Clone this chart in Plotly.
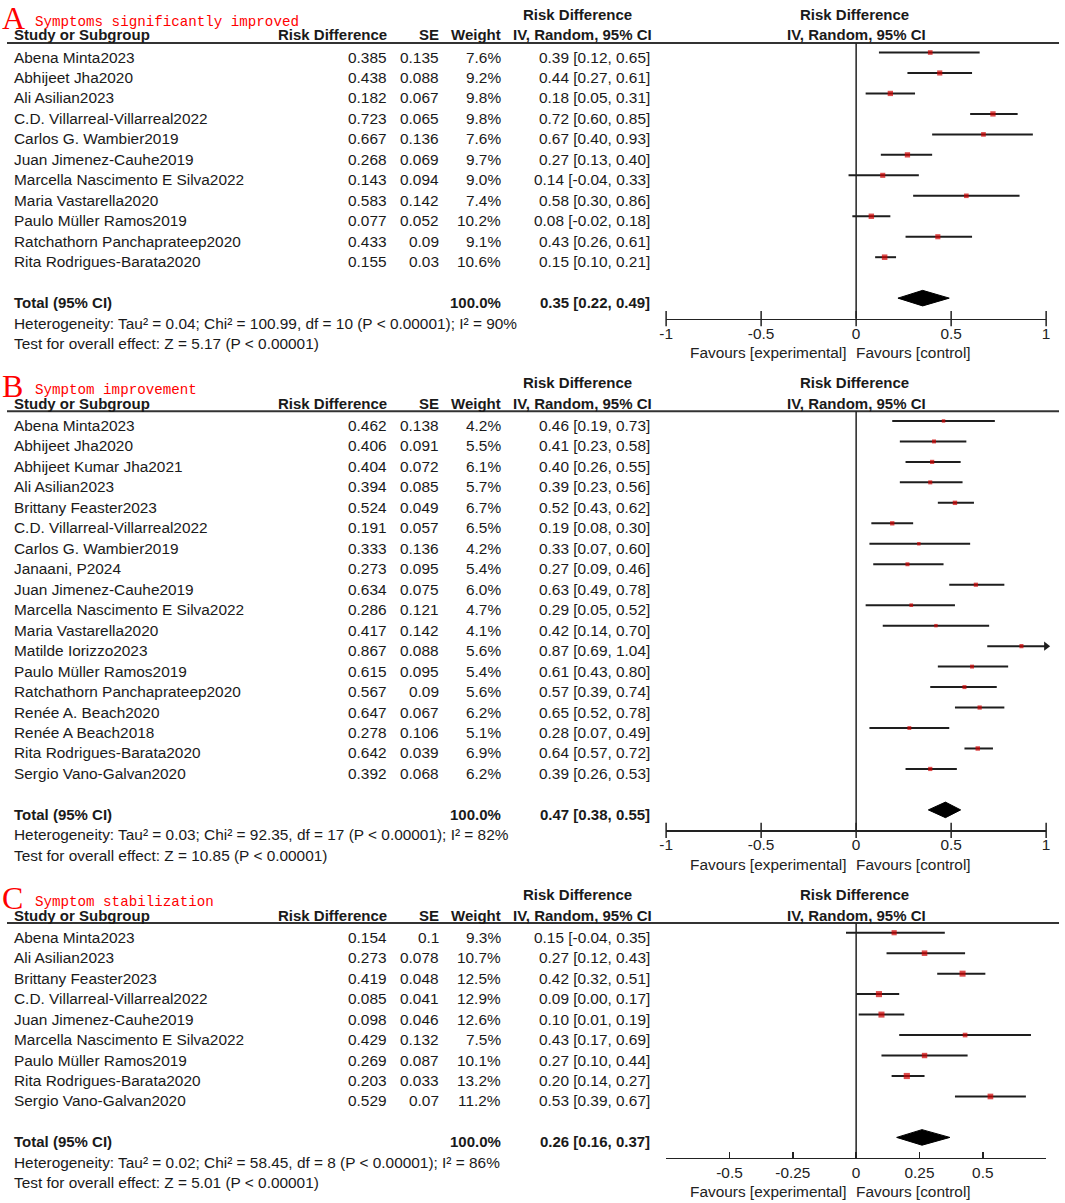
import math
import plotly.graph_objects as go

W, H = 1065, 1203
ROW0_PX = 52.5      # pixel of the first study row (graphics centre)
ROW_PX = 20.47      # row pitch in pixels
TXT_SHIFT = -4.5    # text sits slightly below the CI line
SANS = "Liberation Sans, Arial, sans-serif"
TXT = "#1a1a1a"
FS = 15.4           # regular text size
FB = 15.0           # bold text size
LEFT_FIX = -6.5     # empirical offset of left-anchored annotation boxes
RIGHT_FIX = -1.5

# ---------------- Panel A ----------------
a_names = ["Abena Minta2023", "Abhijeet Jha2020", "Ali Asilian2023", "C.D. Villarreal-Villarreal2022",
           "Carlos G. Wambier2019", "Juan Jimenez-Cauhe2019", "Marcella Nascimento E Silva2022",
           "Maria Vastarella2020", "Paulo Müller Ramos2019", "Ratchathorn Panchaprateep2020",
           "Rita Rodrigues-Barata2020"]
a_rd = [0.385, 0.438, 0.182, 0.723, 0.667, 0.268, 0.143, 0.583, 0.077, 0.433, 0.155]
a_se = [0.135, 0.088, 0.067, 0.065, 0.136, 0.069, 0.094, 0.142, 0.052, 0.09, 0.03]
a_weight = [7.6, 9.2, 9.8, 9.8, 7.6, 9.7, 9.0, 7.4, 10.2, 9.1, 10.6]
a_est = [0.39, 0.44, 0.18, 0.72, 0.67, 0.27, 0.14, 0.58, 0.08, 0.43, 0.15]
a_lo = [0.12, 0.27, 0.05, 0.60, 0.40, 0.13, -0.04, 0.30, -0.02, 0.26, 0.10]
a_hi = [0.65, 0.61, 0.31, 0.85, 0.93, 0.40, 0.33, 0.86, 0.18, 0.61, 0.21]
a_total = [0.35, 0.22, 0.49]
a_het = "Heterogeneity: Tau² = 0.04; Chi² = 100.99, df = 10 (P < 0.00001); I² = 90%"
a_test = "Test for overall effect: Z = 5.17 (P < 0.00001)"
a_range = [-1, 1]
a_ticks = [-1, -0.5, 0, 0.5, 1]
a_ticktext = ["-1", "-0.5", "0", "0.5", "1"]

# ---------------- Panel B ----------------
b_names = ["Abena Minta2023", "Abhijeet Jha2020", "Abhijeet Kumar Jha2021", "Ali Asilian2023",
           "Brittany Feaster2023", "C.D. Villarreal-Villarreal2022", "Carlos G. Wambier2019",
           "Janaani, P2024", "Juan Jimenez-Cauhe2019", "Marcella Nascimento E Silva2022",
           "Maria Vastarella2020", "Matilde Iorizzo2023", "Paulo Müller Ramos2019",
           "Ratchathorn Panchaprateep2020", "Renée A. Beach2020", "Renée A Beach2018",
           "Rita Rodrigues-Barata2020", "Sergio Vano-Galvan2020"]
b_rd = [0.462, 0.406, 0.404, 0.394, 0.524, 0.191, 0.333, 0.273, 0.634, 0.286, 0.417, 0.867,
        0.615, 0.567, 0.647, 0.278, 0.642, 0.392]
b_se = [0.138, 0.091, 0.072, 0.085, 0.049, 0.057, 0.136, 0.095, 0.075, 0.121, 0.142, 0.088,
        0.095, 0.09, 0.067, 0.106, 0.039, 0.068]
b_weight = [4.2, 5.5, 6.1, 5.7, 6.7, 6.5, 4.2, 5.4, 6.0, 4.7, 4.1, 5.6, 5.4, 5.6, 6.2, 5.1, 6.9, 6.2]
b_est = [0.46, 0.41, 0.40, 0.39, 0.52, 0.19, 0.33, 0.27, 0.63, 0.29, 0.42, 0.87, 0.61, 0.57,
         0.65, 0.28, 0.64, 0.39]
b_lo = [0.19, 0.23, 0.26, 0.23, 0.43, 0.08, 0.07, 0.09, 0.49, 0.05, 0.14, 0.69, 0.43, 0.39,
        0.52, 0.07, 0.57, 0.26]
b_hi = [0.73, 0.58, 0.55, 0.56, 0.62, 0.30, 0.60, 0.46, 0.78, 0.52, 0.70, 1.04, 0.80, 0.74,
        0.78, 0.49, 0.72, 0.53]
b_total = [0.47, 0.38, 0.55]
b_het = "Heterogeneity: Tau² = 0.03; Chi² = 92.35, df = 17 (P < 0.00001); I² = 82%"
b_test = "Test for overall effect: Z = 10.85 (P < 0.00001)"
b_range = [-1, 1]
b_ticks = [-1, -0.5, 0, 0.5, 1]
b_ticktext = ["-1", "-0.5", "0", "0.5", "1"]

# ---------------- Panel C ----------------
c_names = ["Abena Minta2023", "Ali Asilian2023", "Brittany Feaster2023",
           "C.D. Villarreal-Villarreal2022", "Juan Jimenez-Cauhe2019",
           "Marcella Nascimento E Silva2022", "Paulo Müller Ramos2019",
           "Rita Rodrigues-Barata2020", "Sergio Vano-Galvan2020"]
c_rd = [0.154, 0.273, 0.419, 0.085, 0.098, 0.429, 0.269, 0.203, 0.529]
c_se = [0.1, 0.078, 0.048, 0.041, 0.046, 0.132, 0.087, 0.033, 0.07]
c_weight = [9.3, 10.7, 12.5, 12.9, 12.6, 7.5, 10.1, 13.2, 11.2]
c_est = [0.15, 0.27, 0.42, 0.09, 0.10, 0.43, 0.27, 0.20, 0.53]
c_lo = [-0.04, 0.12, 0.32, 0.00, 0.01, 0.17, 0.10, 0.14, 0.39]
c_hi = [0.35, 0.43, 0.51, 0.17, 0.19, 0.69, 0.44, 0.27, 0.67]
c_total = [0.26, 0.16, 0.37]
c_het = "Heterogeneity: Tau² = 0.02; Chi² = 58.45, df = 8 (P < 0.00001); I² = 86%"
c_test = "Test for overall effect: Z = 5.01 (P < 0.00001)"
c_range = [-0.75, 0.75]
c_ticks = [-0.5, -0.25, 0, 0.25, 0.5]
c_ticktext = ["-0.5", "-0.25", "0", "0.25", "0.5"]

panels = [
    dict(letter="A", title="Symptoms significantly improved", names=a_names, rd=a_rd, se=a_se,
         w=a_weight, est=a_est, lo=a_lo, hi=a_hi, total=a_total, het=a_het, test=a_test,
         rng=a_range, ticks=a_ticks, ticktext=a_ticktext, cross=True),
    dict(letter="B", title="Symptom improvement", names=b_names, rd=b_rd, se=b_se,
         w=b_weight, est=b_est, lo=b_lo, hi=b_hi, total=b_total, het=b_het, test=b_test,
         rng=b_range, ticks=b_ticks, ticktext=b_ticktext, cross=True),
    dict(letter="C", title="Symptom stabilization", names=c_names, rd=c_rd, se=c_se,
         w=c_weight, est=c_est, lo=c_lo, hi=c_hi, total=c_total, het=c_het, test=c_test,
         rng=c_range, ticks=c_ticks, ticktext=c_ticktext, cross=False),
]


def row_px(r):
    return ROW0_PX + r * ROW_PX


fig = go.Figure()
ann = []
shapes = []
layout_axes = {}

XDOM = [666 / W, 1050 / W]


def fix(xpx, anchor):
    if anchor == "left":
        return xpx + LEFT_FIX
    if anchor == "right":
        return xpx + RIGHT_FIX
    return xpx - 1


def txt(xpx, row, s, anchor, bold=False, size=None, color=TXT, family=SANS, shift=TXT_SHIFT):
    if size is None:
        size = FB if bold else FS
    ann.append(dict(x=fix(xpx, anchor) / W, xref="paper", y=row, yref="y",
                    text=(f"<b>{s}</b>" if bold else s),
                    showarrow=False, xanchor=anchor, yanchor="middle", yshift=shift,
                    borderpad=0, borderwidth=0,
                    font=dict(family=family, size=size, color=color)))


start = 0
for k, p in enumerate(panels):
    n = len(p["names"])
    xa = "x" if k == 0 else f"x{k + 1}"
    xkey = "xaxis" if k == 0 else f"xaxis{k + 1}"
    rows = [start + i for i in range(n)]
    hdr_line = start - 0.47
    total_row = start + n + 1
    axis_row = start + n + 2
    axis_pos = 1 - row_px(axis_row) / H

    # ---- letter + title ----
    ann.append(dict(x=fix(1, "left") / W, xref="paper", y=hdr_line, yref="y", yshift=25,
                    text=p["letter"], showarrow=False, xanchor="left", yanchor="middle",
                    borderpad=0, borderwidth=0,
                    font=dict(family="Liberation Serif, serif", size=32, color="#ff0000")))
    ann.append(dict(x=fix(35, "left") / W, xref="paper", y=hdr_line, yref="y", yshift=21,
                    text=p["title"], showarrow=False, xanchor="left", yanchor="middle",
                    borderpad=0, borderwidth=0,
                    font=dict(family="Liberation Mono, monospace", size=14.2, color="#ff0000")))

    # ---- headers ----
    txt(577, start - 2.1, "Risk Difference", "center", bold=True)
    txt(857, start - 2.1, "Risk Difference", "center", bold=True)
    txt(13.5, start - 1.08, "Study or Subgroup", "left", bold=True)
    txt(385, start - 1.08, "Risk Difference", "right", bold=True)
    txt(438.5, start - 1.08, "SE", "right", bold=True)
    txt(501, start - 1.08, "Weight", "right", bold=True)
    txt(583, start - 1.08, "IV, Random, 95% CI", "center", bold=True)
    txt(859, start - 1.08, "IV, Random, 95% CI", "center", bold=True)
    shapes.append(dict(type="line", xref="paper", yref="y", x0=0, x1=1063 / W, y0=hdr_line,
                       y1=hdr_line, line=dict(color="#333333", width=2)))

    # ---- study rows ----
    for i in range(n):
        r = rows[i]
        txt(13.5, r, p["names"][i], "left")
        txt(385, r, str(p["rd"][i]), "right")
        txt(438.5, r, str(p["se"][i]), "right")
        txt(501, r, f"{p['w'][i]:.1f}%", "right")
        txt(651, r, f"{p['est'][i]:.2f} [{p['lo'][i]:.2f}, {p['hi'][i]:.2f}]", "right")

    # ---- total / heterogeneity ----
    t_est, t_lo, t_hi = p["total"]
    txt(13.5, total_row, "Total (95% CI)", "left", bold=True)
    txt(501, total_row, "100.0%", "right", bold=True)
    txt(651, total_row, f"{t_est:.2f} [{t_lo:.2f}, {t_hi:.2f}]", "right", bold=True)
    txt(13.5, total_row + 1, p["het"], "left")
    txt(13.5, total_row + 2, p["test"], "left")

    # ---- favours ----
    txt(850, axis_row, "Favours [experimental]", "right", color="#222222", shift=-34)
    txt(864, axis_row, "Favours [control]", "left", color="#222222", shift=-34)

    # ---- zero line ----
    shapes.append(dict(type="line", xref=xa, yref="y", x0=0, x1=0, y0=hdr_line, y1=axis_row,
                       line=dict(color="#222222", width=1.5)))

    # ---- CI lines ----
    lx, ly = [], []
    for i in range(n):
        lx += [p["lo"][i], p["hi"][i], None]
        ly += [rows[i], rows[i], None]
    fig.add_trace(go.Scatter(x=lx, y=ly, xaxis=xa, yaxis="y", mode="lines",
                             line=dict(color="#1e1e1e", width=2), hoverinfo="skip",
                             showlegend=False))
    # arrows for CIs running off the axis
    ax_x = [p["rng"][1] for i in range(n) if p["hi"][i] > p["rng"][1]]
    ax_y = [rows[i] for i in range(n) if p["hi"][i] > p["rng"][1]]
    if ax_x:
        fig.add_trace(go.Scatter(x=ax_x, y=ax_y, xaxis=xa, yaxis="y", mode="markers",
                                 marker=dict(symbol="triangle-right", size=8, color="#1e1e1e"),
                                 cliponaxis=False, hoverinfo="skip", showlegend=False))
    # squares
    fig.add_trace(go.Scatter(x=p["est"], y=rows, xaxis=xa, yaxis="y", mode="markers",
                             marker=dict(symbol="square", color="#d00000",
                                         size=[1.7 * math.sqrt(w) for w in p["w"]],
                                         line=dict(width=0)),
                             hoverinfo="skip", showlegend=False))
    # diamond
    h = 0.38
    fig.add_trace(go.Scatter(x=[t_lo, t_est, t_hi, t_est, t_lo],
                             y=[total_row, total_row - h, total_row, total_row + h, total_row],
                             xaxis=xa, yaxis="y", mode="lines", fill="toself",
                             fillcolor="#000000", line=dict(color="#000000", width=1),
                             hoverinfo="skip", showlegend=False))
    # tick marks crossing the axis line (panels A and B)
    if p["cross"]:
        fig.add_trace(go.Scatter(x=p["ticks"], y=[axis_row] * len(p["ticks"]), xaxis=xa,
                                 yaxis="y", mode="markers",
                                 marker=dict(symbol="line-ns-open", size=11, color="#222222",
                                             line=dict(color="#222222", width=1.5)),
                                 cliponaxis=False, hoverinfo="skip", showlegend=False))

    layout_axes[xkey] = dict(domain=XDOM, range=p["rng"], anchor="free", position=axis_pos,
                             showgrid=False, zeroline=False, showline=True, linecolor="#222222",
                             linewidth=1.5, ticks=("" if p["cross"] else "inside"), ticklen=6,
                             tickwidth=1.5, tickcolor="#222222", tickvals=p["ticks"],
                             ticktext=p["ticktext"], ticklabelstandoff=0,
                             tickfont=dict(family=SANS, size=FS, color="#222222"),
                             fixedrange=True)

    start += n + 7

fig.update_layout(
    width=W, height=H, autosize=False,
    margin=dict(l=0, r=0, t=0, b=0),
    paper_bgcolor="white", plot_bgcolor="rgba(0,0,0,0)",
    showlegend=False,
    yaxis=dict(domain=[0, 1], range=[(H - ROW0_PX) / ROW_PX, -ROW0_PX / ROW_PX], visible=False,
               fixedrange=True, anchor="x"),
    annotations=ann, shapes=shapes,
    **layout_axes,
)

fig.write_html("out.html", config={"displayModeBar": False, "staticPlot": True},
               post_script="document.body.style.margin='0px';")
